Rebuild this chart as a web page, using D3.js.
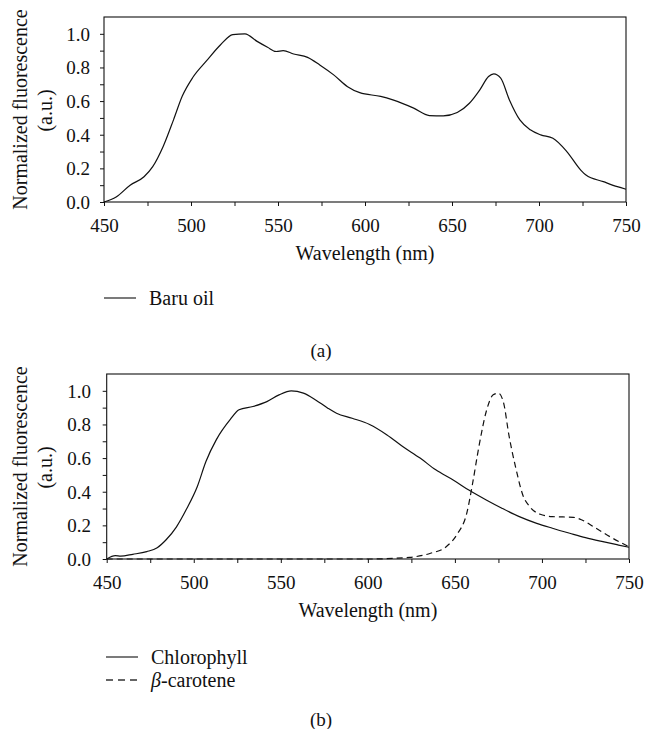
<!DOCTYPE html>
<html>
<head>
<meta charset="utf-8">
<script src="https://cdn.jsdelivr.net/npm/d3@7"></script>
<style>
  html, body { margin: 0; padding: 0; background: #fff; }
  svg { display: block; }
  text { font-family: "Liberation Serif", "Times New Roman", serif; fill: #111; }
</style>
</head>
<body>
<svg id="chart" width="645" height="729"></svg>
<script>
// ---- Data ----
const baruWavelengths = [450,457,465,473,478,484,490,495,501,509,517,524,531,538,544,549,553,559,567,574,582,590,597,609,616,628,637,645,653,660,666,671,674,678,683,689,695,701,708,716,724,727,737,745,750];
const baruOil =         [0,0.03,0.10,0.15,0.21,0.33,0.49,0.63,0.74,0.84,0.935,0.995,1.0,0.955,0.92,0.895,0.90,0.88,0.86,0.815,0.756,0.686,0.65,0.628,0.607,0.558,0.514,0.512,0.532,0.587,0.667,0.746,0.762,0.736,0.607,0.488,0.429,0.399,0.379,0.30,0.19,0.16,0.121,0.091,0.076];

const chloroWavelengths = [450,455,458,465,473,479,484,490,496,502,507,513,521,526,534,542,549,556,563,570,577,582,591,601,611,620,630,639,649,658,668,677,687,697,706,716,725,735,744,750];
const chlorophyll =       [0,0.02,0.017,0.028,0.044,0.067,0.113,0.19,0.30,0.43,0.58,0.71,0.83,0.887,0.907,0.936,0.976,1.0,0.986,0.946,0.897,0.867,0.837,0.80,0.738,0.669,0.60,0.53,0.47,0.41,0.351,0.302,0.252,0.212,0.183,0.153,0.127,0.103,0.083,0.07];

const caroteneWavelengths = [450,500,550,600,624,636,645,651,657,660,664,668,672,675,678,681,685,689,693,699,706,718,723,731,739,750];
const betaCarotene =        [0,0,0,0,0.01,0.034,0.073,0.143,0.28,0.44,0.68,0.877,0.976,0.986,0.927,0.738,0.54,0.381,0.311,0.266,0.252,0.248,0.232,0.183,0.133,0.073];

const xTickValues = [450,475,500,525,550,575,600,625,650,675,700,725,750];
const xTickLabels = [450,500,550,600,650,700,750];
const yTickValues = [0,0.1,0.2,0.3,0.4,0.5,0.6,0.7,0.8,0.9,1.0];
const yTickLabels = [0,0.2,0.4,0.6,0.8,1.0];

const xLabel = "Wavelength (nm)";
const yLabel1 = "Normalized fluorescence";
const yLabel2 = "(a.u.)";

// ---- Drawing ----
const svg = d3.select("#chart");
svg.append("rect").attr("width",645).attr("height",729).attr("fill","#fff");

function panel(cfg) {
  const g = svg.append("g");
  const x = d3.scaleLinear().domain([450,750]).range([cfg.left, cfg.right]);
  const y = d3.scaleLinear().domain([0,1.1]).range([cfg.bottom, cfg.top]);

  const xAxis = d3.axisBottom(x).tickValues(xTickValues).tickSize(4).tickSizeOuter(0)
    .tickFormat(d => xTickLabels.includes(d) ? d3.format("d")(d) : "");
  const xa = g.append("g").attr("transform",`translate(0,${cfg.bottom})`).call(xAxis);
  xa.select(".domain").remove();
  xa.selectAll("text").attr("y",null).attr("dy",null).attr("dominant-baseline","central")
    .attr("transform","translate(0,23)").style("font-size","19px").style("font-family",'"Liberation Serif", serif');

  const yAxis = d3.axisLeft(y).tickValues(yTickValues).tickSize(4).tickSizeOuter(0)
    .tickFormat(d => yTickLabels.some(v => Math.abs(v-d) < 1e-9) ? d3.format(".1f")(d) : "");
  const ya = g.append("g").attr("transform",`translate(${cfg.left},0)`).call(yAxis);
  ya.select(".domain").remove();
  ya.selectAll("text").attr("x",-(cfg.left - cfg.yLabelRight)).attr("dy",null).attr("dominant-baseline","central")
    .style("font-size","19px").style("font-family",'"Liberation Serif", serif');
  g.selectAll(".tick line").attr("stroke","#111");

  // frame
  g.append("rect").attr("x",x(450)).attr("y",y(1.1))
    .attr("width",x(750)-x(450)).attr("height",y(0)-y(1.1))
    .attr("fill","none").attr("stroke","#111").attr("stroke-width",1.1);

  const line = d3.line().x(d => x(d[0])).y(d => y(d[1])).curve(d3.curveMonotoneX);
  cfg.series.forEach(s => {
    g.append("path").datum(d3.zip(s.xs, s.ys)).attr("d", line)
      .attr("fill","none").attr("stroke","#111").attr("stroke-width",1.2)
      .attr("stroke-dasharray", s.dash || null);
  });

  // axis titles
  g.append("text").attr("x",(x(450)+x(750))/2).attr("y",cfg.bottom+51)
    .attr("text-anchor","middle").attr("dominant-baseline","central")
    .style("font-size","20px").text(xLabel);
  const cy = (cfg.top + cfg.bottom)/2;
  g.append("text").attr("transform",`translate(20,${cy}) rotate(-90)`)
    .attr("text-anchor","middle").attr("dominant-baseline","central")
    .style("font-size","20px").text(yLabel1);
  g.append("text").attr("transform",`translate(45,${cy+1}) rotate(-90)`)
    .attr("text-anchor","middle").attr("dominant-baseline","central")
    .style("font-size","20px").text(yLabel2);

  // legend
  cfg.series.forEach((s,i) => {
    const ly = cfg.legendY + i*23;
    g.append("line").attr("x1",cfg.legendX).attr("x2",cfg.legendX+32).attr("y1",ly).attr("y2",ly)
      .attr("stroke","#333").attr("stroke-width",1.3).attr("stroke-dasharray", s.legendDash || null);
    const t = g.append("text").attr("x",cfg.legendX+45).attr("y",ly)
      .attr("dominant-baseline","central").style("font-size","20px");
    if (s.greek) {
      t.append("tspan").style("font-style","italic").text(s.greek);
      t.append("tspan").text(s.name);
    } else t.text(s.name);
  });

  g.append("text").attr("x",321).attr("y",cfg.tagY).attr("text-anchor","middle")
    .attr("dominant-baseline","central").style("font-size","19px").text(cfg.tag);
}

panel({
  left:104, right:626, top:17, bottom:202, yLabelRight:90,
  series:[{xs:baruWavelengths, ys:baruOil, name:"Baru oil"}],
  legendX:104, legendY:298, tag:"(a)", tagY:350
});

panel({
  left:106.7, right:629, top:374, bottom:559, yLabelRight:91,
  series:[
    {xs:chloroWavelengths, ys:chlorophyll, name:"Chlorophyll"},
    {xs:caroteneWavelengths, ys:betaCarotene, name:"-carotene", greek:"β", dash:"6,4", legendDash:"7,5"}
  ],
  legendX:106, legendY:657, tag:"(b)", tagY:719
});
</script>
</body>
</html>
